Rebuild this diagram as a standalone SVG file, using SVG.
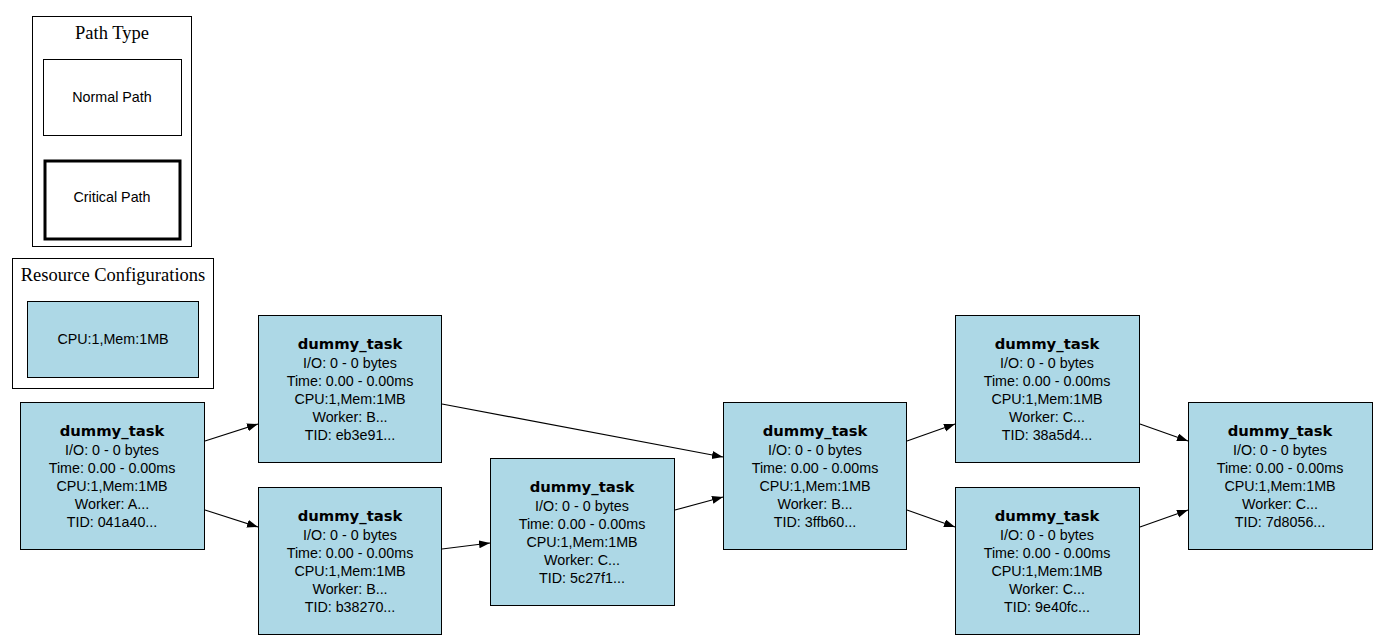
<svg xmlns="http://www.w3.org/2000/svg" width="1378" height="641" viewBox="0 0 1378 641">
<style>
.node rect{fill:#add8e6;stroke:#000;stroke-width:1}
.t{font-family:"Liberation Sans",Arial,sans-serif;font-size:14.3px;text-anchor:middle;fill:#000}
.b{font-family:"DejaVu Sans",Verdana,sans-serif;font-weight:bold;font-size:14.8px}
.ct{font-family:"Liberation Serif","Times New Roman",serif;font-size:18.5px;text-anchor:middle;fill:#000}
.cl{fill:#fff;stroke:#000;stroke-width:1}
.e{fill:none;stroke:#000;stroke-width:1.2}
</style>
<defs>
<marker id="ah" markerUnits="userSpaceOnUse" markerWidth="12" markerHeight="10" refX="11" refY="4" orient="auto">
<path d="M0,0 L11,4 L0,8 Z" fill="#000"/>
</marker>
</defs>
<rect width="1378" height="641" fill="#fff"/>
<g id="legend-path-type">
<rect class="cl" x="32.5" y="16.5" width="159" height="230"/>
<text class="ct" x="112" y="39">Path Type</text>
<rect x="43.5" y="59.5" width="138" height="76" fill="#fff" stroke="#000"/>
<text class="t" x="112" y="102" font-size="13">Normal Path</text>
<rect x="45" y="161" width="135" height="78" fill="#fff" stroke="#000" stroke-width="3"/>
<text class="t" x="112" y="202" font-size="13">Critical Path</text>
</g>
<g id="legend-resources">
<rect class="cl" x="12.5" y="258.5" width="201" height="130"/>
<text class="ct" x="113" y="281">Resource Configurations</text>
<rect x="27.5" y="301.5" width="171" height="76" fill="#add8e6" stroke="#000"/>
<text class="t" x="113" y="344" font-size="13">CPU:1,Mem:1MB</text>
</g>
<g id="edges">
<path class="e" d="M205,441 L258,424" marker-end="url(#ah)"/>
<path class="e" d="M205,510 L258,527" marker-end="url(#ah)"/>
<path class="e" d="M442,404 L723,457" marker-end="url(#ah)"/>
<path class="e" d="M442,549 L490,543" marker-end="url(#ah)"/>
<path class="e" d="M675,510 L723,497" marker-end="url(#ah)"/>
<path class="e" d="M907,441 L955,424" marker-end="url(#ah)"/>
<path class="e" d="M907,510 L955,527" marker-end="url(#ah)"/>
<path class="e" d="M1140,424 L1188,441" marker-end="url(#ah)"/>
<path class="e" d="M1140,527 L1188,510" marker-end="url(#ah)"/>
</g>
<g id="n041a40" class="node">
<rect x="20.5" y="402.5" width="184" height="147"/>
<text class="t b" x="112" y="436">dummy_task</text>
<text class="t" x="112" y="455">I/O: 0 - 0 bytes</text>
<text class="t" x="112" y="473">Time: 0.00 - 0.00ms</text>
<text class="t" x="112" y="491">CPU:1,Mem:1MB</text>
<text class="t" x="112" y="509">Worker: A...</text>
<text class="t" x="112" y="527">TID: 041a40...</text>
</g>
<g id="neb3e91" class="node">
<rect x="258.5" y="315.5" width="183" height="147"/>
<text class="t b" x="350" y="349">dummy_task</text>
<text class="t" x="350" y="368">I/O: 0 - 0 bytes</text>
<text class="t" x="350" y="386">Time: 0.00 - 0.00ms</text>
<text class="t" x="350" y="404">CPU:1,Mem:1MB</text>
<text class="t" x="350" y="422">Worker: B...</text>
<text class="t" x="350" y="440">TID: eb3e91...</text>
</g>
<g id="nb38270" class="node">
<rect x="258.5" y="487.5" width="183" height="147"/>
<text class="t b" x="350" y="521">dummy_task</text>
<text class="t" x="350" y="540">I/O: 0 - 0 bytes</text>
<text class="t" x="350" y="558">Time: 0.00 - 0.00ms</text>
<text class="t" x="350" y="576">CPU:1,Mem:1MB</text>
<text class="t" x="350" y="594">Worker: B...</text>
<text class="t" x="350" y="612">TID: b38270...</text>
</g>
<g id="n5c27f1" class="node">
<rect x="490.5" y="458.5" width="184" height="147"/>
<text class="t b" x="582" y="492">dummy_task</text>
<text class="t" x="582" y="511">I/O: 0 - 0 bytes</text>
<text class="t" x="582" y="529">Time: 0.00 - 0.00ms</text>
<text class="t" x="582" y="547">CPU:1,Mem:1MB</text>
<text class="t" x="582" y="565">Worker: C...</text>
<text class="t" x="582" y="583">TID: 5c27f1...</text>
</g>
<g id="n3ffb60" class="node">
<rect x="723.5" y="402.5" width="183" height="147"/>
<text class="t b" x="815" y="436">dummy_task</text>
<text class="t" x="815" y="455">I/O: 0 - 0 bytes</text>
<text class="t" x="815" y="473">Time: 0.00 - 0.00ms</text>
<text class="t" x="815" y="491">CPU:1,Mem:1MB</text>
<text class="t" x="815" y="509">Worker: B...</text>
<text class="t" x="815" y="527">TID: 3ffb60...</text>
</g>
<g id="n38a5d4" class="node">
<rect x="955.5" y="315.5" width="184" height="147"/>
<text class="t b" x="1047" y="349">dummy_task</text>
<text class="t" x="1047" y="368">I/O: 0 - 0 bytes</text>
<text class="t" x="1047" y="386">Time: 0.00 - 0.00ms</text>
<text class="t" x="1047" y="404">CPU:1,Mem:1MB</text>
<text class="t" x="1047" y="422">Worker: C...</text>
<text class="t" x="1047" y="440">TID: 38a5d4...</text>
</g>
<g id="n9e40fc" class="node">
<rect x="955.5" y="487.5" width="184" height="147"/>
<text class="t b" x="1047" y="521">dummy_task</text>
<text class="t" x="1047" y="540">I/O: 0 - 0 bytes</text>
<text class="t" x="1047" y="558">Time: 0.00 - 0.00ms</text>
<text class="t" x="1047" y="576">CPU:1,Mem:1MB</text>
<text class="t" x="1047" y="594">Worker: C...</text>
<text class="t" x="1047" y="612">TID: 9e40fc...</text>
</g>
<g id="n7d8056" class="node">
<rect x="1188.5" y="402.5" width="184" height="147"/>
<text class="t b" x="1280" y="436">dummy_task</text>
<text class="t" x="1280" y="455">I/O: 0 - 0 bytes</text>
<text class="t" x="1280" y="473">Time: 0.00 - 0.00ms</text>
<text class="t" x="1280" y="491">CPU:1,Mem:1MB</text>
<text class="t" x="1280" y="509">Worker: C...</text>
<text class="t" x="1280" y="527">TID: 7d8056...</text>
</g>
</svg>
